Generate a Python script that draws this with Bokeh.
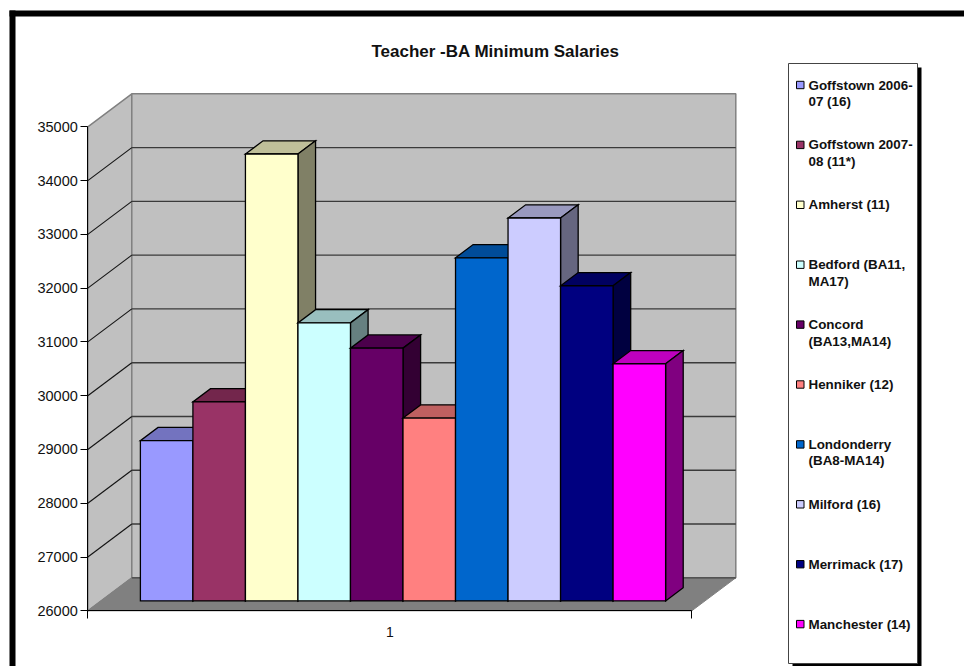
from bokeh.core.properties import value
from bokeh.embed import file_html
from bokeh.models import FixedTicker, LinearAxis, Range1d
from bokeh.plotting import figure
from bokeh.resources import INLINE

# Salary data, one bar per district
districts = [
    "Goffstown 2006-07 (16)", "Goffstown 2007-08 (11*)", "Amherst (11)",
    "Bedford (BA11, MA17)", "Concord (BA13,MA14)", "Henniker (12)",
    "Londonderry (BA8-MA14)", "Milford (16)", "Merrimack (17)", "Manchester (14)",
]
legend_lines = [
    ["Goffstown 2006-", "07 (16)"], ["Goffstown 2007-", "08 (11*)"], ["Amherst (11)"],
    ["Bedford (BA11,", "MA17)"], ["Concord", "(BA13,MA14)"], ["Henniker (12)"],
    ["Londonderry", "(BA8-MA14)"], ["Milford (16)"], ["Merrimack (17)"], ["Manchester (14)"],
]
salaries = [28980, 29700, 34310, 31170, 30700, 29400, 32380, 33120, 31860, 30410]
bar_colors = [
    "#9999ff", "#993366", "#ffffcc", "#ccffff", "#660066",
    "#ff8080", "#0066cc", "#ccccff", "#000080", "#ff00ff",
]
y_ticks = [26000, 27000, 28000, 29000, 30000, 31000, 32000, 33000, 34000, 35000]
chart_title = "Teacher -BA Minimum Salaries"

# Canvas and axis placement
W, H = 964, 666
AXIS_X, AXIS_W = 87.3, 604
AXIS_Y0, PX_PER_UNIT = 610.3, (611 - 127) / 9000
DEPTH_DX = 44 / AXIS_W            # category-axis units per full floor depth
DEPTH_DY = 33 / PX_PER_UNIT       # salary units per full floor depth
Y_MIN, Y_MAX = y_ticks[0], y_ticks[-1]
BAR_W = 1 / (len(salaries) + 1.5)
BAR_D0, BAR_D1 = 0.3, 0.7
FONT = value("Liberation Sans")


def project(x, y, depth):
    """Oblique projection of a point sitting `depth` back from the front plane."""
    return x + depth * DEPTH_DX, y + depth * DEPTH_DY


def poly(points):
    xs, ys = zip(*[project(*pt) for pt in points])
    return list(xs), list(ys)


def shade(color, factor):
    r, g, b = (int(color[i:i + 2], 16) for i in (1, 3, 5))
    return "#%02x%02x%02x" % (round(r * factor), round(g * factor), round(b * factor))


p = figure(
    width=W, height=H, output_backend="svg", toolbar_location=None,
    x_range=Range1d(-AXIS_X / AXIS_W, (W - AXIS_X) / AXIS_W),
    y_range=Range1d(Y_MIN - (H - AXIS_Y0) / PX_PER_UNIT, Y_MIN + AXIS_Y0 / PX_PER_UNIT),
    x_axis_location=None, y_axis_location=None, min_border=0,
    background_fill_color="white", border_fill_color="white",
)
p.outline_line_color = None
p.grid.visible = False
p.extra_x_ranges["px"] = Range1d(0, W)
p.extra_y_ranges["px"] = Range1d(H, 0)
PX = dict(x_range_name="px", y_range_name="px")

# Walls and floor of the 3D box
walls_x, walls_y = [], []
for pts in (
    [(0, Y_MIN, 0), (0, Y_MIN, 1), (0, Y_MAX, 1), (0, Y_MAX, 0)],
    [(0, Y_MIN, 1), (1, Y_MIN, 1), (1, Y_MAX, 1), (0, Y_MAX, 1)],
):
    xs, ys = poly(pts)
    walls_x.append(xs)
    walls_y.append(ys)
p.patches(walls_x, walls_y, fill_color="#c0c0c0", line_color="#808080", line_width=1.5)

fx, fy = poly([(0, Y_MIN, 0), (1, Y_MIN, 0), (1, Y_MIN, 1), (0, Y_MIN, 1)])
p.patch(fx, fy, fill_color="#808080", line_color="#808080", line_width=1)

# Gridlines run along the side wall, then across the back wall
for tick in y_ticks[1:-1]:
    xs, ys = poly([(0, tick, 0), (0, tick, 1)])
    p.line(xs, ys, line_color="#111111", line_width=1.1)
    xs, ys = poly([(0, tick, 1), (1, tick, 1)])
    p.line(xs, ys, line_color="#3a3a3a", line_width=1.4)

xs, ys = poly([(0, Y_MIN, 1), (1, Y_MIN, 1)])
p.line(xs, ys, line_color="#444444", line_width=1.2)

# Bars, painted left to right so that each one covers its neighbour's side face
for i, (salary, color) in enumerate(zip(salaries, bar_colors)):
    x0 = BAR_W * (0.75 + i)
    x1 = x0 + BAR_W
    faces = [
        (shade(color, 0.75), [(x0, salary, BAR_D0), (x1, salary, BAR_D0), (x1, salary, BAR_D1), (x0, salary, BAR_D1)]),
        (shade(color, 0.5), [(x1, Y_MIN, BAR_D0), (x1, Y_MIN, BAR_D1), (x1, salary, BAR_D1), (x1, salary, BAR_D0)]),
        (color, [(x0, Y_MIN, BAR_D0), (x1, Y_MIN, BAR_D0), (x1, salary, BAR_D0), (x0, salary, BAR_D0)]),
    ]
    for fill, pts in faces:
        xs, ys = poly(pts)
        p.patch(xs, ys, fill_color=fill, line_color="black", line_width=1.3, line_join="miter")

# Axes sit on the front plane of the box
y_axis = LinearAxis(
    fixed_location=0, bounds=(Y_MIN, Y_MAX), ticker=FixedTicker(ticks=y_ticks),
    major_tick_in=0, major_tick_out=7, minor_tick_in=0, minor_tick_out=0,
    axis_line_color="black", major_tick_line_color="black",
    major_label_text_font="Liberation Sans", major_label_text_font_size="14.5px",
    major_label_text_color="#111111", major_label_standoff=3,
)
y_axis.formatter.use_scientific = False
p.add_layout(y_axis, "left")

x_axis = LinearAxis(
    fixed_location=Y_MIN, bounds=(0, 1),
    ticker=FixedTicker(ticks=[0.5], minor_ticks=[0, 1]),
    major_label_overrides={0.5: "1"},
    major_tick_in=0, major_tick_out=0, minor_tick_in=0, minor_tick_out=8,
    axis_line_color="black", minor_tick_line_color="black",
    major_label_text_font="Liberation Sans", major_label_text_font_size="14px",
    major_label_text_color="#111111", major_label_standoff=8,
)
p.add_layout(x_axis, "below")

# Chart frame lines along the top and left of the page
p.quad(left=[9, 9], right=[W, 15], top=[10, 10], bottom=[16, H],
       fill_color="black", line_color=None, **PX)

# Title
p.text(x=[495], y=[50.5], text=[chart_title], text_font=FONT, text_font_style="bold",
       text_font_size="17px", text_align="center", text_baseline="middle",
       text_color="#111111", **PX)

# Legend box with its drop shadow
p.quad(left=[792], right=[921], top=[67], bottom=[667], fill_color="black", line_color=None, **PX)
p.quad(left=[788], right=[917], top=[63], bottom=[663], fill_color="white",
       line_color="#444444", line_width=1, **PX)

LEGEND_TOP, LEGEND_STEP = 84.5, 59.9
for i, (lines, color) in enumerate(zip(legend_lines, bar_colors)):
    row = LEGEND_TOP + i * LEGEND_STEP
    p.quad(left=[796], right=[803.5], top=[row - 3.7], bottom=[row + 3.7],
           fill_color=color, line_color="black", line_width=1, **PX)
    for j, line in enumerate(lines):
        p.text(x=[808], y=[row + j * 16.4], text=[line], text_font=FONT, text_font_style="bold",
               text_font_size="13.4px", text_baseline="middle", text_color="#111111", **PX)

open("out.html", "w").write(file_html(p, INLINE))
